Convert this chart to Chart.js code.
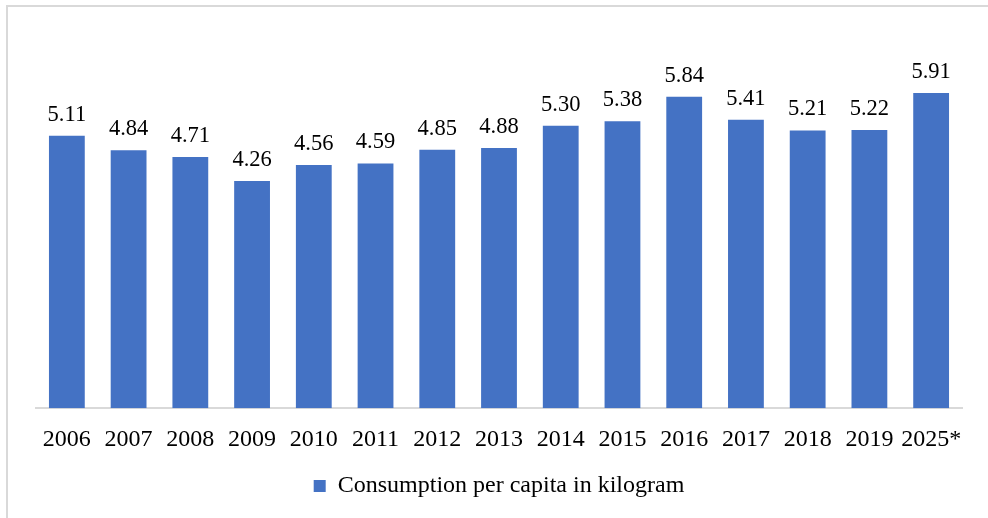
<!DOCTYPE html>
<html>
<head>
<meta charset="utf-8">
<script src="https://cdn.jsdelivr.net/npm/chart.js@4"></script>
<style>
  html, body { margin: 0; padding: 0; background: #fff; overflow: hidden; }
  #frame { position: absolute; left: 6px; top: 5px; width: 1000px; height: 600px; border: 2px solid #d9d9d9; }
  #wrap { position: absolute; left: 0; top: 0; width: 988px; height: 508px; }
</style>
</head>
<body>
<div id="frame"></div>
<div id="wrap"><canvas id="chart" width="988" height="508"></canvas></div>
<script>
// data
const years = ['2006', '2007', '2008', '2009', '2010', '2011', '2012', '2013', '2014', '2015', '2016', '2017', '2018', '2019', '2025*'];
const consumption = [5.11, 4.84, 4.71, 4.26, 4.56, 4.59, 4.85, 4.88, 5.30, 5.38, 5.84, 5.41, 5.21, 5.22, 5.91];
const seriesName = 'Consumption per capita in kilogram';

const serif = "'Liberation Serif', 'Times New Roman', serif";

// value labels above each bar
const valueLabels = {
  id: 'valueLabels',
  afterDatasetsDraw(chart) {
    const ctx = chart.ctx;
    const meta = chart.getDatasetMeta(0);
    ctx.save();
    ctx.font = '22.5px ' + serif;
    ctx.fillStyle = '#000';
    ctx.textAlign = 'center';
    ctx.textBaseline = 'alphabetic';
    meta.data.forEach((bar, i) => {
      ctx.fillText(consumption[i].toFixed(2), bar.x, bar.y - 15);
    });
    ctx.restore();
  }
};

new Chart(document.getElementById('chart'), {
  type: 'bar',
  data: {
    labels: years,
    datasets: [{
      label: seriesName,
      data: consumption,
      backgroundColor: '#4472c4',
      borderWidth: 0,
      categoryPercentage: 1,
      barPercentage: 0.58
    }]
  },
  options: {
    responsive: false,
    animation: false,
    layout: { padding: { top: 35, left: 36, right: 26, bottom: 0 } },
    plugins: {
      tooltip: { enabled: false },
      legend: {
        position: 'bottom',
        labels: {
          color: '#000',
          font: { family: serif, size: 24 },
          boxWidth: 12,
          boxHeight: 12,
          padding: 3
        }
      }
    },
    scales: {
      x: {
        grid: { display: false, drawTicks: false },
        border: { display: true, color: '#d9d9d9', width: 2 },
        ticks: { color: '#000', font: { family: serif, size: 24 }, padding: 17, maxRotation: 0, autoSkip: false }
      },
      y: {
        display: false,
        min: 0,
        max: 7
      }
    }
  },
  plugins: [valueLabels]
});
</script>
</body>
</html>
